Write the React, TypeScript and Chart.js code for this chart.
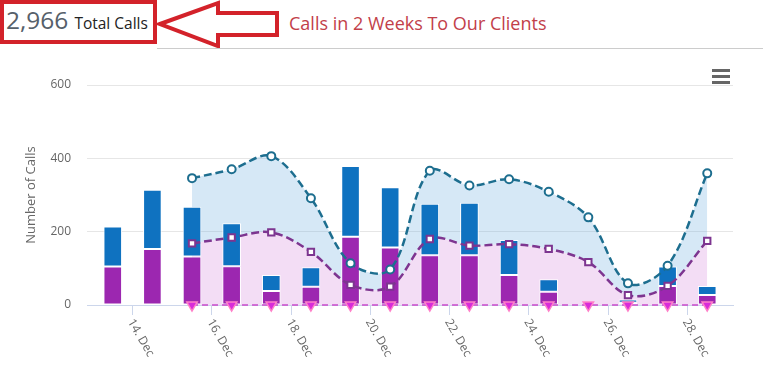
import React, { useEffect, useRef } from "react";
import { Chart, registerables } from "chart.js";

Chart.register(...registerables);

// ---- data ----
const days = [13, 14, 15, 16, 17, 18, 19, 20, 21, 22, 23, 24, 25, 26, 27, 28];
const purpleCalls = [105, 153, 132, 106, 38, 50, 186, 157, 136, 136, 82, 36, 0, 6, 52, 27];
const blueCalls = [109, 161, 136, 117, 44, 53, 193, 164, 140, 143, 95, 34, 0, 9, 53, 25];
const lineDays = [15, 16, 17, 18, 19, 20, 21, 22, 23, 24, 25, 26, 27, 28];
const blueLine = [346, 370, 406, 291, 114, 97, 366, 326, 343, 309, 239, 59, 107, 359];
const purpleLine = [168, 184, 198, 145, 55, 50, 180, 162, 166, 153, 117, 27, 52, 175];
const zeroLine = [0, 0, 0, 0, 0, 0, 0, 0, 0, 0, 0, 0, 0, 0];
const tickDays = [14, 16, 18, 20, 22, 24, 26, 28];
const tickLabels = ["14. Dec", "16. Dec", "18. Dec", "20. Dec", "22. Dec", "24. Dec", "26. Dec", "28. Dec"];
const yTicks = [0, 200, 400, 600];
const totalCalls = "2,966";

const FONT = '"Open Sans", "DejaVu Sans", sans-serif';
const firstDay = days[0];
const xOf = (d: number) => d - firstDay;

const rotatedLabels = {
  id: "rotatedLabels",
  afterDraw(chart: any) {
    const { ctx, chartArea } = chart;
    const xs = chart.scales.x;
    ctx.save();
    ctx.font = `12px ${FONT}`;
    ctx.fillStyle = "#666666";
    ctx.textAlign = "left";
    ctx.textBaseline = "middle";
    tickDays.forEach((d, i) => {
      const px = xs.getPixelForValue(xOf(d) - 0.5);
      ctx.save();
      ctx.translate(px - 2, chartArea.bottom + 15);
      ctx.rotate((60 * Math.PI) / 180);
      ctx.fillText(tickLabels[i], 0, 0);
      ctx.restore();
    });
    ctx.restore();
  },
};

function ChartView() {
  const ref = useRef<HTMLCanvasElement | null>(null);
  useEffect(() => {
    if (!ref.current) return;
    const chart = new Chart(ref.current, {
      type: "bar",
      data: {
        datasets: [
          {
            type: "bar",
            label: "Purple",
            data: days.map((d, i) => ({ x: xOf(d), y: purpleCalls[i] })),
            backgroundColor: "#9c27b0",
            borderColor: "#ffffff",
            borderWidth: 1,
            borderSkipped: false,
            stack: "bars",
            order: 1,
            categoryPercentage: 1,
            barPercentage: 0.47,
          },
          {
            type: "bar",
            label: "Blue",
            data: days.map((d, i) => ({ x: xOf(d), y: blueCalls[i] })),
            backgroundColor: "#0f72c0",
            borderColor: "#ffffff",
            borderWidth: 1,
            borderSkipped: false,
            stack: "bars",
            order: 1,
            categoryPercentage: 1,
            barPercentage: 0.47,
          },
          {
            type: "line",
            label: "Blue line",
            data: lineDays.map((d, i) => ({ x: xOf(d), y: blueLine[i] })),
            borderColor: "#1d6e8f",
            borderWidth: 2.5,
            borderDash: [8, 4],
            backgroundColor: "rgba(120,180,225,0.3)",
            fill: "+1",
            tension: 0.35,
            pointRadius: 4,
            pointBorderWidth: 2,
            pointBackgroundColor: "#ffffff",
            pointBorderColor: "#1d6e8f",
            stack: "l1",
            order: 0,
          },
          {
            type: "line",
            label: "Purple line",
            data: lineDays.map((d, i) => ({ x: xOf(d), y: purpleLine[i] })),
            borderColor: "#7d3590",
            borderWidth: 2.5,
            borderDash: [8, 4],
            backgroundColor: "rgba(225,170,230,0.4)",
            fill: "origin",
            tension: 0.35,
            pointStyle: "rect",
            pointRadius: 4.5,
            pointBorderWidth: 2,
            pointBackgroundColor: "#ffffff",
            pointBorderColor: "#7d3590",
            stack: "l2",
            order: 0,
          },
          {
            type: "line",
            label: "Zero line",
            data: lineDays.map((d, i) => ({ x: xOf(d), y: zeroLine[i] })),
            borderColor: "#c94bcc",
            borderWidth: 1.5,
            borderDash: [6, 4],
            fill: false,
            pointStyle: "triangle",
            rotation: 180,
            pointRadius: 6,
            pointBorderWidth: 1.5,
            pointBackgroundColor: "#d92bd9",
            pointBorderColor: "#ff80c8",
            stack: "l3",
            order: 0,
            clip: false,
          },
        ],
      },
      options: {
        animation: false,
        responsive: true,
        maintainAspectRatio: false,
        layout: { padding: { top: 35, right: 30, left: 0, bottom: 0 } },
        plugins: {
          legend: { display: false },
          tooltip: { enabled: false },
          filler: { drawTime: "beforeDatasetsDraw" },
        },
        scales: {
          x: {
            type: "linear",
            min: -0.65,
            max: 15.65,
            offset: false,
            stacked: true,
            afterBuildTicks: (s: any) => {
              s.ticks = tickDays.map((d) => ({ value: xOf(d) - 0.5 }));
            },
            afterFit: (s: any) => {
              s.height = 76;
            },
            ticks: { display: false },
            grid: {
              offset: false,
              drawOnChartArea: false,
              drawTicks: true,
              tickLength: 10,
              color: "#ccd6eb",
            },
            border: { display: true, color: "#ccd6eb", width: 1 },
          },
          y: {
            min: 0,
            max: 600,
            stacked: true,
            afterBuildTicks: (s: any) => {
              s.ticks = yTicks.map((v) => ({ value: v }));
            },
            afterFit: (s: any) => {
              s.width = 87;
            },
            ticks: {
              color: "#666666",
              font: { family: FONT, size: 12 },
              padding: 16,
            },
            grid: { color: "#e6e6e6", drawTicks: false },
            border: { display: false },
            title: {
              display: true,
              text: "Number of Calls",
              color: "#666666",
              font: { family: FONT, size: 13 },
              padding: { top: 23, bottom: 0 },
            },
          },
        },
      },
      plugins: [rotatedLabels],
    } as any);
    return () => chart.destroy();
  }, []);
  return <canvas ref={ref} />;
}

export default function App() {
  return (
    <div
      style={{
        position: "absolute",
        left: 0,
        top: 0,
        width: 763,
        height: 381,
        background: "#ffffff",
        overflow: "hidden",
        fontFamily: FONT,
      }}
    >
      <div
        style={{
          position: "absolute",
          left: 0,
          top: 0,
          width: 157,
          height: 44,
          boxSizing: "border-box",
          border: "4px solid #d3222a",
        }}
      />
      <div
        style={{
          position: "absolute",
          left: 6,
          top: 5,
          whiteSpace: "nowrap",
          lineHeight: "30px",
        }}
      >
        <span style={{ fontSize: 24.5, color: "#56606a" }}>{totalCalls}</span>
        <span style={{ fontSize: 15.5, color: "#222222", marginLeft: 6 }}>Total Calls</span>
      </div>
      <svg
        width={300}
        height={52}
        style={{ position: "absolute", left: 0, top: 0 }}
      >
        <polygon
          points="160,24 218,3 218,13 277,13 277,35 218,35 218,46"
          fill="#ffffff"
          stroke="#d3222a"
          strokeWidth={4}
          strokeLinejoin="miter"
        />
      </svg>
      <div
        style={{
          position: "absolute",
          left: 289,
          top: 9,
          fontSize: 18,
          lineHeight: "28px",
          color: "#c2404a",
          whiteSpace: "nowrap",
        }}
      >
        Calls in 2 Weeks To Our Clients
      </div>
      <div
        style={{
          position: "absolute",
          left: 157,
          top: 48,
          width: 606,
          height: 1,
          background: "#cccccc",
        }}
      />
      <div style={{ position: "absolute", left: 0, top: 50, width: 763, height: 331 }}>
        <ChartView />
      </div>
      {[70, 76, 82].map((t) => (
        <div
          key={t}
          style={{
            position: "absolute",
            left: 712,
            top: t - 1,
            width: 18,
            height: 2.5,
            background: "#666666",
          }}
        />
      ))}
    </div>
  );
}
